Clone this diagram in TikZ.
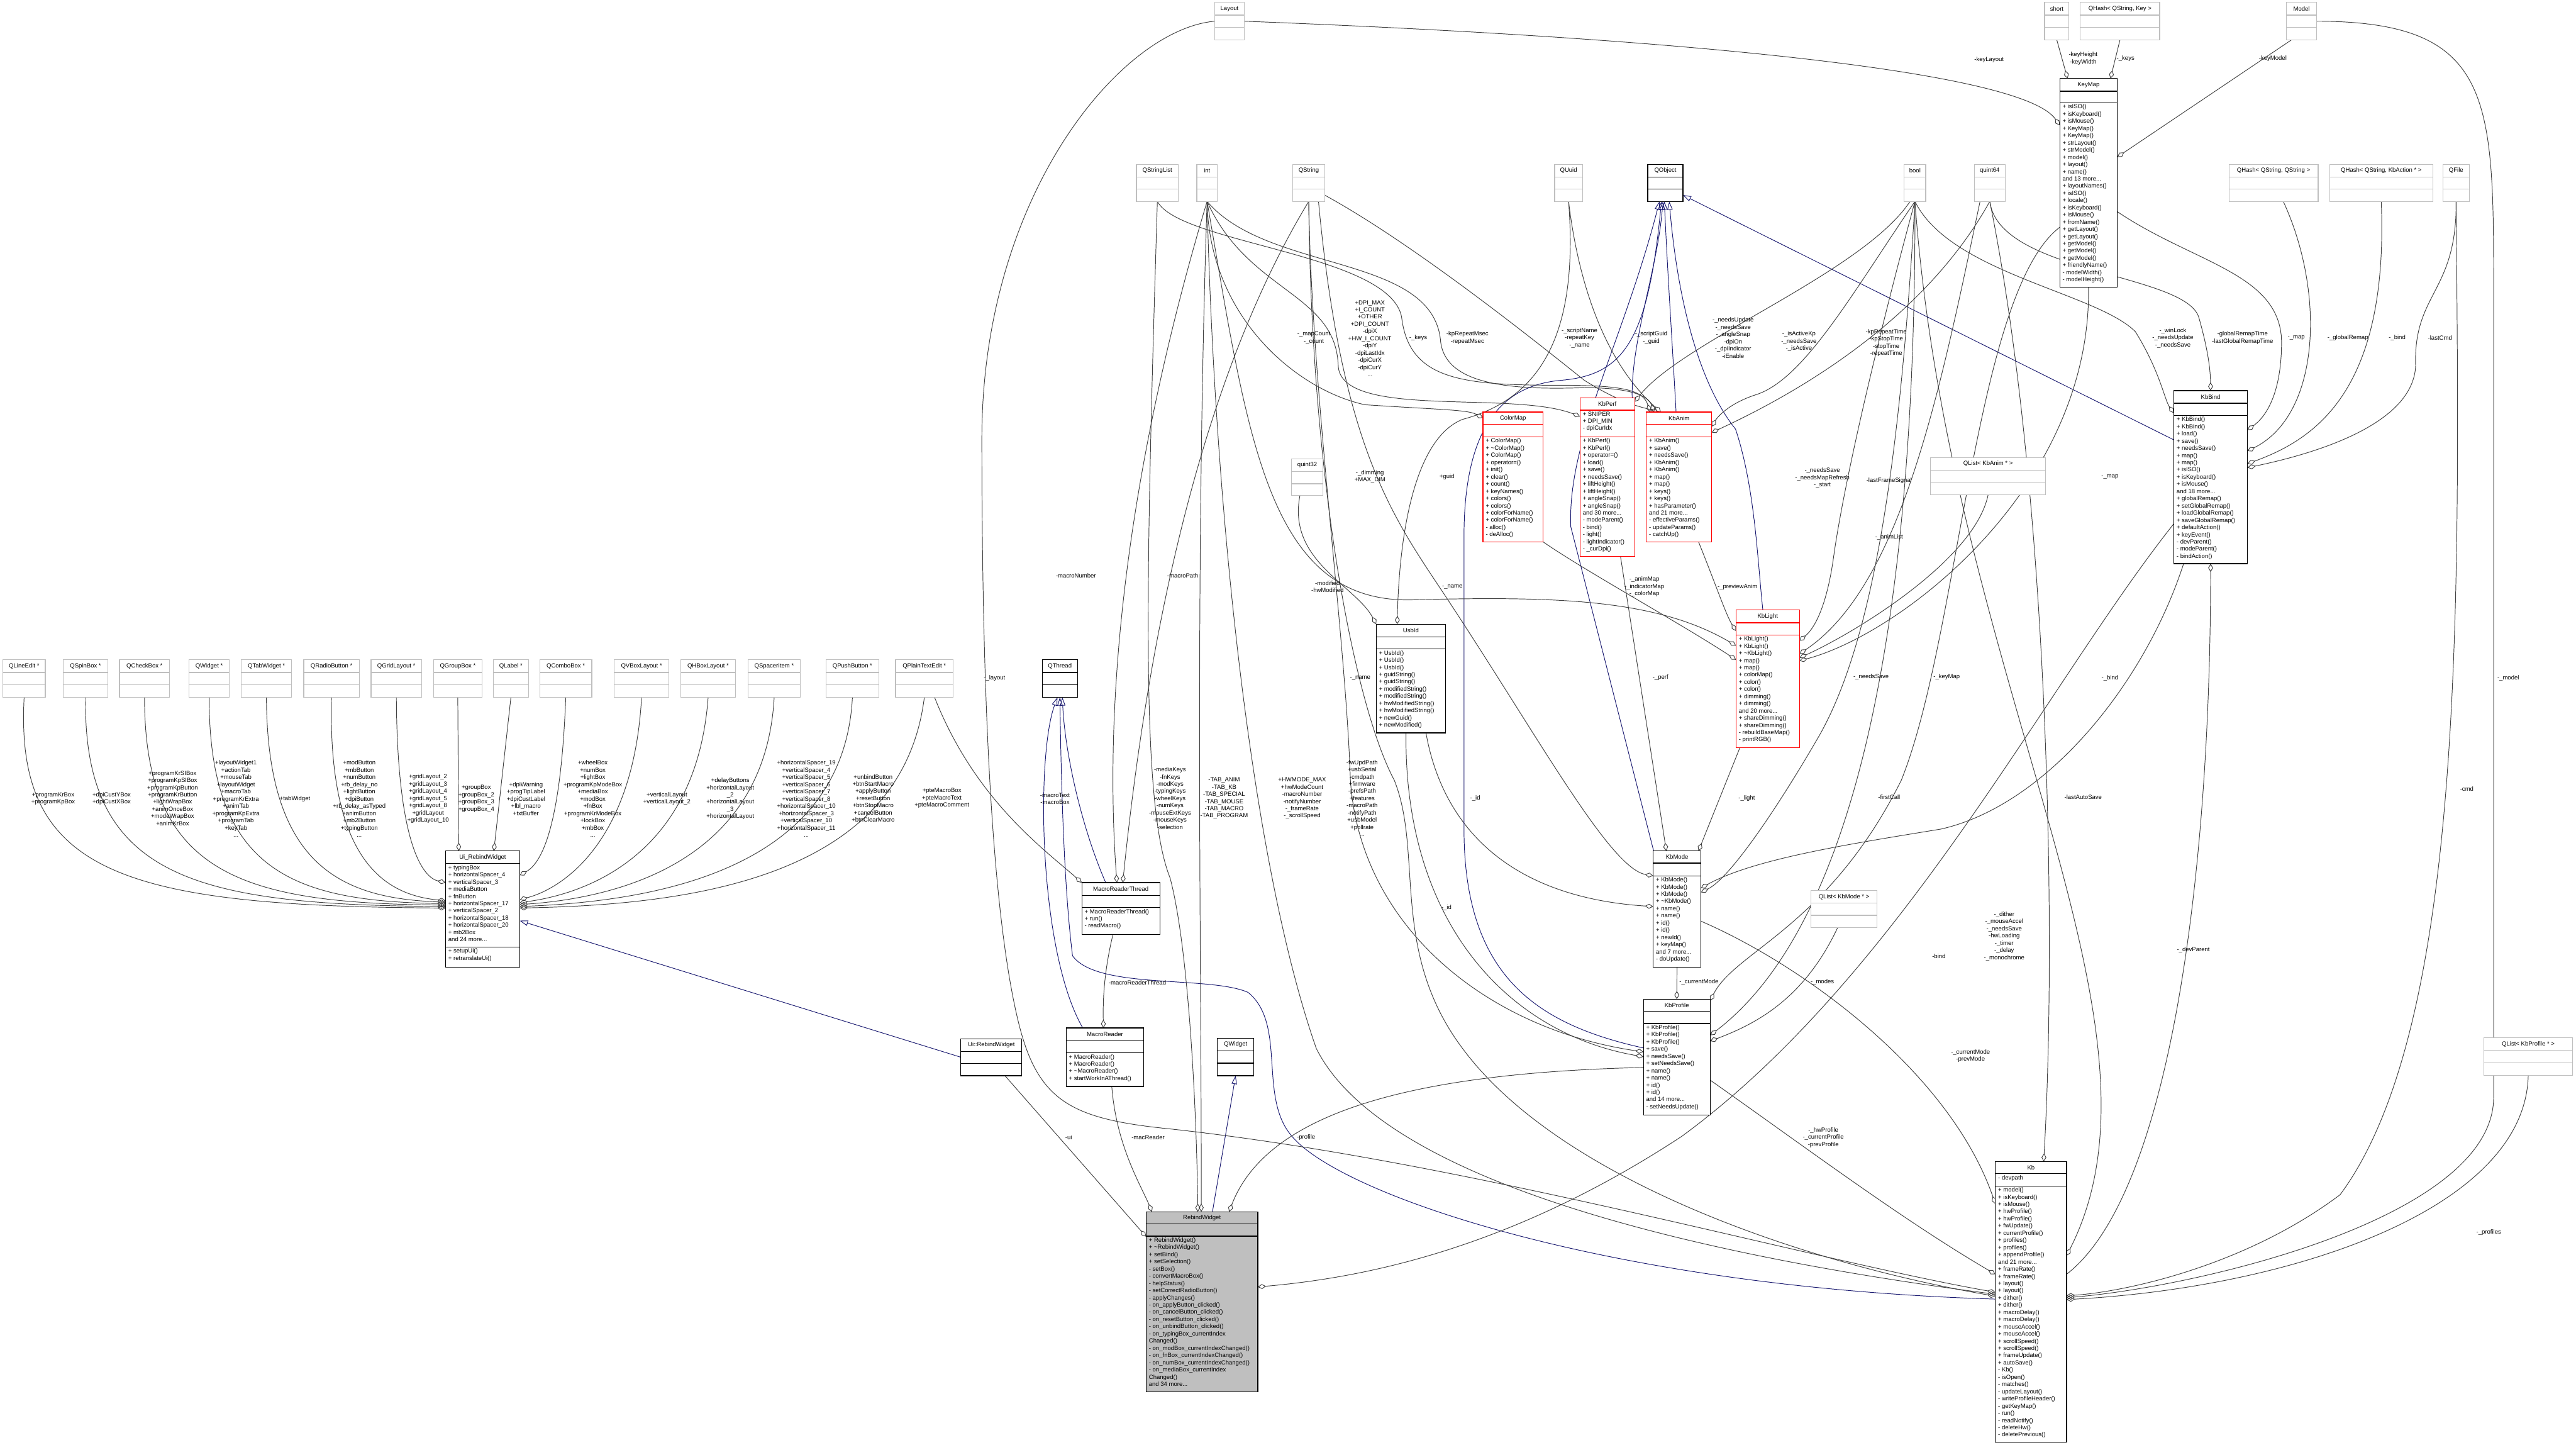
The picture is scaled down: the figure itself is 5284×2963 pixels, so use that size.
\documentclass[tikz,border=0pt]{standalone}
\usepackage{fontspec}
\setmainfont{Liberation Sans}
\usetikzlibrary{arrows.meta,calc,fit,backgrounds}

\definecolor{edgegray}{HTML}{404040}
\definecolor{inhblue}{HTML}{191970}
\definecolor{boxgray}{HTML}{BFBFBF}

\newcommand{\dxfont}{\fontsize{3.5}{4.2}\selectfont}

% class box: name, style, top-left, bottom-right, title height, attr height, title, attrs, methods
\newcommand{\umlclass}[9]{%
  \node[cls,#2,fit={(#3) (#4)}] (#1) {};
  \draw[sepline,#2] ($(#1.north west)+(0,#5)$) -- ($(#1.north east)+(0,#5)$);
  \draw[sepline,#2] ($(#1.north west)+(0,#5+#6)$) -- ($(#1.north east)+(0,#5+#6)$);
  \node[ctitle] (#1-t) at ($(#1.north)+(0,#5/2)$) {#7};
  \node[memb] (#1-a) at ($(#1.north west)+(0,#5)$) {#8};
  \node[memb] (#1-m) at ($(#1.north west)+(0,#5+#6)$) {#9};
}

\begin{document}
\begin{tikzpicture}[x=0.01cm, y=-0.01cm,
  cls/.style={draw=black, line width=0.45pt, inner sep=0pt, outer sep=0pt, fill=white},
  ext/.style={draw=boxgray},
  redcls/.style={draw=red},
  focus/.style={fill=boxgray},
  sepline/.style={line width=0.45pt},
  ctitle/.style={font=\dxfont, inner sep=0pt},
  memb/.style={font=\dxfont, anchor=north west, align=left, inner xsep=0.05cm, inner ysep=0.025cm},
  use/.style={draw=edgegray, line width=0.35pt, -{Diamond[open,length=0.17cm,width=0.1cm]}},
  inh/.style={draw=inhblue, line width=0.35pt, -{Triangle[open,length=0.17cm,width=0.11cm]}},
  lbl/.style={font=\dxfont, align=center, inner sep=0pt},
]
\useasboundingbox (0,0) rectangle (5284,2963);

% === widget pointer types ===
\umlclass{qlineedit}{ext}{6,1353}{93,1430}{26}{25}{QLineEdit *}{}{}
\umlclass{qspinbox}{ext}{130,1353}{221,1430}{26}{25}{QSpinBox *}{}{}
\umlclass{qcheckbox}{ext}{245,1353}{348,1430}{26}{25}{QCheckBox *}{}{}
\umlclass{qwidgetp}{ext}{388,1353}{470,1430}{26}{25}{QWidget *}{}{}
\umlclass{qtabwidget}{ext}{495,1353}{598,1430}{26}{25}{QTabWidget *}{}{}
\umlclass{qradiobutton}{ext}{623,1353}{737,1430}{26}{25}{QRadioButton *}{}{}
\umlclass{qgridlayout}{ext}{761,1353}{865,1430}{26}{25}{QGridLayout *}{}{}
\umlclass{qgroupbox}{ext}{889,1353}{989,1430}{26}{25}{QGroupBox *}{}{}
\umlclass{qlabel}{ext}{1012,1353}{1084,1430}{26}{25}{QLabel *}{}{}
\umlclass{qcombobox}{ext}{1107,1353}{1214,1430}{26}{25}{QComboBox *}{}{}
\umlclass{qvboxlayout}{ext}{1260,1353}{1372,1430}{26}{25}{QVBoxLayout *}{}{}
\umlclass{qhboxlayout}{ext}{1396,1353}{1509,1430}{26}{25}{QHBoxLayout *}{}{}
\umlclass{qspaceritem}{ext}{1534,1353}{1642,1430}{26}{25}{QSpacerItem *}{}{}
\umlclass{qpushbutton}{ext}{1694,1353}{1803,1430}{26}{25}{QPushButton *}{}{}
\umlclass{qplaintextedit}{ext}{1837,1353}{1955,1430}{26}{25}{QPlainTextEdit *}{}{}
\umlclass{qthread}{}{2138,1353}{2210,1430}{26}{25}{QThread}{}{}

\umlclass{uirebind}{}{914,1745}{1066,1983}{26}{171}{Ui\_RebindWidget}
  {+ typingBox\\+ horizontalSpacer\_4\\+ verticalSpacer\_3\\+ mediaButton\\+ fnButton\\+ horizontalSpacer\_17\\+ verticalSpacer\_2\\+ horizontalSpacer\_18\\+ horizontalSpacer\_20\\+ mb2Box\\and 24 more...}
  {+ setupUi()\\+ retranslateUi()}

% === macro reader / widget ===
\umlclass{mrthread}{}{2219,1810}{2379,1916}{26}{25}{MacroReaderThread}{}{+ MacroReaderThread()\\+ run()\\- readMacro()}
\umlclass{mreader}{}{2187,2108}{2346,2228}{26}{25}{MacroReader}{}{+ MacroReader()\\+ MacroReader()\\+ \textasciitilde MacroReader()\\+ startWorkInAThread()}
\umlclass{uins}{}{1971,2130}{2096,2206}{26}{25}{Ui::RebindWidget}{}{}
\umlclass{qwidget}{}{2497,2129}{2572,2206}{26}{25}{QWidget}{}{}
\umlclass{rebind}{focus}{2351,2485}{2580,2854}{25}{25}{RebindWidget}{}
  {+ RebindWidget()\\+ \textasciitilde RebindWidget()\\+ setBind()\\+ setSelection()\\- setBox()\\- convertMacroBox()\\- helpStatus()\\- setCorrectRadioButton()\\- applyChanges()\\- on\_applyButton\_clicked()\\- on\_cancelButton\_clicked()\\- on\_resetButton\_clicked()\\- on\_unbindButton\_clicked()\\- on\_typingBox\_currentIndex\\Changed()\\- on\_modBox\_currentIndexChanged()\\- on\_fnBox\_currentIndexChanged()\\- on\_numBox\_currentIndexChanged()\\- on\_mediaBox\_currentIndex\\Changed()\\and 34 more...}

% === top rows ===
\umlclass{layout}{ext}{2492,5}{2552,82}{26}{25}{Layout}{}{}
\umlclass{tshort}{ext}{4194,5}{4244,82}{26}{25}{short}{}{}
\umlclass{qhashkey}{ext}{4267,5}{4430,82}{26}{25}{QHash< QString, Key >}{}{}
\umlclass{model}{ext}{4690,5}{4752,82}{26}{25}{Model}{}{}
\umlclass{qstringlist}{ext}{2331,337}{2417,413}{26}{25}{QStringList}{}{}
\umlclass{tint}{ext}{2455,337}{2497,413}{26}{25}{int}{}{}
\umlclass{qstring}{ext}{2652,337}{2717,413}{26}{25}{QString}{}{}
\umlclass{quuid}{ext}{3189,337}{3246,413}{26}{25}{QUuid}{}{}
\umlclass{qobject}{}{3380,337}{3452,413}{26}{25}{QObject}{}{}
\umlclass{tbool}{ext}{3906,337}{3950,413}{26}{25}{bool}{}{}
\umlclass{quint64}{ext}{4050,337}{4113,413}{26}{25}{quint64}{}{}
\umlclass{qhashstr}{ext}{4572,337}{4755,413}{26}{25}{QHash< QString, QString >}{}{}
\umlclass{qhashact}{ext}{4779,337}{4990,413}{26}{25}{QHash< QString, KbAction * >}{}{}
\umlclass{qfile}{ext}{5011,337}{5065,413}{26}{25}{QFile}{}{}

% === keyboard classes ===
\umlclass{keymap}{}{4225,161}{4343,589}{26}{24}{KeyMap}{}
  {+ isISO()\\+ isKeyboard()\\+ isMouse()\\+ KeyMap()\\+ KeyMap()\\+ strLayout()\\+ strModel()\\+ model()\\+ layout()\\+ name()\\and 13 more...\\+ layoutNames()\\+ isISO()\\+ locale()\\+ isKeyboard()\\+ isMouse()\\+ fromName()\\+ getLayout()\\+ getLayout()\\+ getModel()\\+ getModel()\\+ getModel()\\+ friendlyName()\\- modelWidth()\\- modelHeight()}
\umlclass{kbbind}{}{4459,801}{4610,1156}{26}{25}{KbBind}{}
  {+ KbBind()\\+ KbBind()\\+ load()\\+ save()\\+ needsSave()\\+ map()\\+ map()\\+ isISO()\\+ isKeyboard()\\+ isMouse()\\and 18 more...\\+ globalRemap()\\+ setGlobalRemap()\\+ loadGlobalRemap()\\+ saveGlobalRemap()\\+ defaultAction()\\+ keyEvent()\\- devParent()\\- modeParent()\\- bindAction()}
\umlclass{colormap}{redcls}{3042,845}{3165,1111}{25}{26}{ColorMap}{}
  {+ ColorMap()\\+ \textasciitilde ColorMap()\\+ ColorMap()\\+ operator=()\\+ init()\\+ clear()\\+ count()\\+ keyNames()\\+ colors()\\+ colors()\\+ colorForName()\\+ colorForName()\\- alloc()\\- deAlloc()}
\umlclass{kbperf}{redcls}{3241,816}{3353,1141}{25}{55}{KbPerf}{+ SNIPER\\+ DPI\_MIN\\- dpiCurIdx}
  {+ KbPerf()\\+ KbPerf()\\+ operator=()\\+ load()\\+ save()\\+ needsSave()\\+ liftHeight()\\+ liftHeight()\\+ angleSnap()\\+ angleSnap()\\and 30 more...\\- modeParent()\\- bind()\\- light()\\- lightIndicator()\\- \_curDpi()}
\umlclass{kbanim}{redcls}{3377,845}{3511,1111}{25}{26}{KbAnim}{}
  {+ KbAnim()\\+ save()\\+ needsSave()\\+ KbAnim()\\+ KbAnim()\\+ map()\\+ map()\\+ keys()\\+ keys()\\+ hasParameter()\\and 21 more...\\- effectiveParams()\\- updateParams()\\- catchUp()}
\umlclass{quint32}{ext}{2649,941}{2714,1016}{26}{25}{quint32}{}{}
\umlclass{qlistanim}{ext}{3960,938}{4196,1015}{26}{25}{QList< KbAnim * >}{}{}
\umlclass{usbid}{}{2823,1280}{2965,1503}{26}{25}{UsbId}{}
  {+ UsbId()\\+ UsbId()\\+ UsbId()\\+ guidString()\\+ guidString()\\+ modifiedString()\\+ modifiedString()\\+ hwModifiedString()\\+ hwModifiedString()\\+ newGuid()\\+ newModified()}
\umlclass{kblight}{redcls}{3561,1251}{3691,1533}{26}{25}{KbLight}{}
  {+ KbLight()\\+ KbLight()\\+ \textasciitilde KbLight()\\+ map()\\+ map()\\+ colorMap()\\+ color()\\+ color()\\+ dimming()\\+ dimming()\\and 20 more...\\+ shareDimming()\\+ shareDimming()\\- rebuildBaseMap()\\- printRGB()}
\umlclass{kbmode}{}{3391,1745}{3489,1983}{25}{26}{KbMode}{}
  {+ KbMode()\\+ KbMode()\\+ KbMode()\\+ \textasciitilde KbMode()\\+ name()\\+ name()\\+ id()\\+ id()\\+ newId()\\+ keyMap()\\and 7 more...\\- doUpdate()}
\umlclass{qlistmode}{ext}{3715,1826}{3850,1902}{26}{25}{QList< KbMode * >}{}{}
\umlclass{kbprofile}{}{3371,2049}{3508,2287}{25}{25}{KbProfile}{}
  {+ KbProfile()\\+ KbProfile()\\+ KbProfile()\\+ save()\\+ needsSave()\\+ setNeedsSave()\\+ name()\\+ name()\\+ id()\\+ id()\\and 14 more...\\- setNeedsUpdate()}
\umlclass{qlistprofile}{ext}{5095,2128}{5277,2205}{26}{25}{QList< KbProfile * >}{}{}
\umlclass{kb}{}{4093,2382}{4239,2957}{25}{25}{Kb}{- devpath}
  {+ model()\\+ isKeyboard()\\+ isMouse()\\+ hwProfile()\\+ hwProfile()\\+ fwUpdate()\\+ currentProfile()\\+ profiles()\\+ profiles()\\+ appendProfile()\\and 21 more...\\+ frameRate()\\+ frameRate()\\+ layout()\\+ layout()\\+ dither()\\+ dither()\\+ macroDelay()\\+ macroDelay()\\+ mouseAccel()\\+ mouseAccel()\\+ scrollSpeed()\\+ scrollSpeed()\\+ frameUpdate()\\+ autoSave()\\- Kb()\\- isOpen()\\- matches()\\- updateLayout()\\- writeProfileHeader()\\- getKeyMap()\\- run()\\- readNotify()\\- deleteHw()\\- deletePrevious()}

% === connectors ===
\begin{scope}[on background layer]
\fill[white] (0,0) rectangle (5284,2963);

% Ui_RebindWidget members
\draw[use] (qlineedit.south) .. controls (30,1790) and (250,1858) .. ($(uirebind.north west)+(0,117)$);
\draw[use] (qspinbox.south) .. controls (170,1800) and (400,1855) .. ($(uirebind.north west)+(0,114)$);
\draw[use] (qcheckbox.south) .. controls (296,1795) and (500,1852) .. ($(uirebind.north west)+(0,111)$);
\draw[use] (qwidgetp.south) .. controls (429,1785) and (600,1848) .. ($(uirebind.north west)+(0,108)$);
\draw[use] (qtabwidget.south) .. controls (548,1775) and (700,1842) .. ($(uirebind.north west)+(0,105)$);
\draw[use] (qradiobutton.south) .. controls (672,1765) and (790,1835) .. ($(uirebind.north west)+(0,102)$);
\draw[use] (qgridlayout.south) .. controls (815,1740) and (870,1800) .. ($(uirebind.north west)+(0,65)$);
\draw[use] (qgroupbox.south) -- ($(uirebind.north west)+(27,0)$);
\draw[use] (qlabel.south) -- ($(uirebind.north west)+(99,0)$);
\draw[use] (qcombobox.south) .. controls (1150,1700) and (1110,1770) .. ($(uirebind.north east)+(0,50)$);
\draw[use] (qvboxlayout.south) .. controls (1300,1720) and (1160,1820) .. ($(uirebind.north east)+(0,100)$);
\draw[use] (qhboxlayout.south) .. controls (1430,1740) and (1220,1830) .. ($(uirebind.north east)+(0,106)$);
\draw[use] (qspaceritem.south) .. controls (1570,1760) and (1280,1840) .. ($(uirebind.north east)+(0,110)$);
\draw[use] (qpushbutton.south) .. controls (1730,1790) and (1330,1848) .. ($(uirebind.north east)+(0,114)$);
\draw[use] (qplaintextedit.south) .. controls (1850,1800) and (1420,1855) .. ($(uirebind.north east)+(0,117)$);
\draw[inh] (uins.west) -- ($(uirebind.north east)+(0,143)$);

% macro reader thread
\draw[use] ($(qplaintextedit.south)+(21,0)$) .. controls (2000,1640) and (2140,1740) .. (mrthread.north west);
\draw[use] (tint.south) .. controls (2390,700) and (2250,1250) .. ($(mrthread.north west)+(72,0)$);
\draw[use] (qstring.south) .. controls (2450,800) and (2350,1350) .. ($(mrthread.north west)+(84,0)$);
\draw[inh] ($(mrthread.north west)+(49,0)$) .. controls (2220,1700) and (2185,1550) .. ($(qthread.south)+(5,0)$);
\draw[inh] ($(mreader.north west)+(34,0)$) .. controls (2130,1950) and (2125,1550) .. ($(qthread.south)+(-5,0)$);
\draw[use] ($(mrthread.south)+(-16,0)$) .. controls (2265,1990) and (2262,2050) .. ($(mreader.north)+(-3,0)$);
\draw[inh] ($(kb.north west)+(0,282)$) .. controls (3300,2640) and (2750,2450) .. (2650,2330)
  .. controls (2580,2250) and (2640,2100) .. (2560,2035) .. controls (2480,2000) and (2250,2030) .. (2200,1960)
  .. controls (2180,1800) and (2176,1550) .. (qthread.south);

% RebindWidget members
\draw[use] ($(uins.south)+(28,0)$) -- ($(rebind.north west)+(0,51)$);
\draw[use] ($(mreader.south)+(14,0)$) .. controls (2290,2350) and (2340,2430) .. ($(rebind.north west)+(12,0)$);
\draw[use] (qstringlist.south) .. controls (2350,1200) and (2340,1650) .. (2400,1800) .. controls (2440,1950) and (2455,2300) .. ($(rebind.north west)+(106,0)$);
\draw[use] (tint.south) .. controls (2450,1200) and (2465,2000) .. ($(rebind.north west)+(113,0)$);
\draw[inh] ($(rebind.north west)+(136,0)$) -- (qwidget.south);
\draw[use] ($(kbprofile.north west)+(0,140)$) .. controls (2900,2200) and (2600,2280) .. ($(rebind.north west)+(170,0)$);
\draw[use] ($(kbbind.north west)+(0,273)$) .. controls (4200,1400) and (3900,2000) .. (3450,2330) .. controls (3100,2560) and (2800,2620) .. ($(rebind.north east)+(0,154)$);

% Kb members
\draw[use] (layout.west) .. controls (2300,60) and (2014,400) .. (2014,900) .. controls (2014,1500) and (2040,1900) .. (2090,2100)
  .. controls (2130,2260) and (2200,2295) .. (2400,2315) .. controls (3000,2380) and (3700,2580) .. ($(kb.north west)+(0,268)$);
\draw[use] (tint.south) .. controls (2490,1000) and (2560,1750) .. (2700,2150) .. controls (2850,2450) and (3600,2590) .. ($(kb.north west)+(0,272)$);
\draw[use] (qstring.south) .. controls (2690,1000) and (2780,1450) .. (2860,1600) .. controls (2920,1750) and (2850,1950) .. (3000,2150)
  .. controls (3200,2420) and (3700,2590) .. ($(kb.north west)+(0,276)$);
\draw[use] ($(kbmode.north east)+(0,144)$) .. controls (3700,1980) and (4000,2200) .. ($(kb.north west)+(0,87)$);
\draw[use] ($(kbprofile.north east)+(0,166)$) .. controls (3700,2350) and (3900,2500) .. ($(kb.north west)+(0,231)$);
\draw[use] (quint64.south) .. controls (4200,1000) and (4220,1900) .. ($(kb.north)+(26,0)$);
\draw[use] (tbool.south) .. controls (4000,1400) and (4480,2100) .. ($(kb.north east)+(0,193)$);
\draw[use] (qfile.south) .. controls (5045,1200) and (5060,2100) .. (4800,2450) .. controls (4600,2600) and (4350,2650) .. ($(kb.north east)+(0,275)$);
\draw[use] (model.east) .. controls (5115,44) and (5115,200) .. (5115,600) -- (5115,2250) .. controls (5115,2500) and (4500,2640) .. ($(kb.north east)+(0,279)$);
\draw[use] (qlistprofile.south) .. controls (5180,2480) and (4700,2640) .. ($(kb.north east)+(0,283)$);

% KeyMap members
\draw[use] (layout.east) .. controls (3500,80) and (4150,150) .. ($(keymap.north west)+(0,96)$);
\draw[use] (tshort.south) -- ($(keymap.north west)+(16,0)$);
\draw[use] (qhashkey.south) -- ($(keymap.north west)+(104,0)$);
\draw[use] ($(model.south west)+(10,0)$) -- ($(keymap.north east)+(0,161)$);

% KbBind members
\draw[use] ($(keymap.north east)+(0,273)$) .. controls (4500,540) and (4677,560) .. (4680,700) .. controls (4680,820) and (4640,860) .. ($(kbbind.north east)+(0,81)$);
\draw[use] ($(qhashstr.south)+(20,0)$) .. controls (4770,600) and (4760,850) .. ($(kbbind.north east)+(0,124)$);
\draw[use] (qhashact.south) .. controls (4900,800) and (4750,900) .. ($(kbbind.north east)+(0,150)$);
\draw[use] (qfile.south) .. controls (5040,600) and (4950,600) .. (4955,750) .. controls (4950,870) and (4750,930) .. ($(kbbind.north east)+(0,158)$);
\draw[use] (tbool.south) .. controls (4000,560) and (4300,600) .. (4380,680) .. controls (4430,760) and (4440,820) .. ($(kbbind.north west)+(0,46)$);
\draw[use] (quint64.south) .. controls (4100,560) and (4480,560) .. (4510,650) .. controls (4530,720) and (4534,760) .. (kbbind.north);
\draw[use] ($(kb.north east)+(0,231)$) .. controls (4450,2450) and (4534,1800) .. (kbbind.south);
\draw[inh] ($(kbbind.north west)+(0,101)$) -- ($(qobject.south east)+(0,-13)$);

% KbMode members
\draw[use] ($(kbperf.south)+(27,0)$) -- ($(kbmode.north west)+(27,0)$);
\draw[use] ($(kblight.south west)+(8,0)$) -- ($(kbmode.north east)+(-5,0)$);
\draw[inh] ($(kbmode.north west)+(1,0)$) -- (3222,1080) .. controls (3215,900) and (3330,700) .. ($(qobject.south)+(-12,0)$);
\draw[use] ($(usbid.south east)+(-40,0)$) .. controls (2960,1700) and (3100,1840) .. ($(kbmode.north west)+(0,114)$);
\draw[use] ($(qstring.south)+(20,0)$) .. controls (2750,900) and (2850,1050) .. (2950,1200) .. controls (3150,1500) and (3300,1780) .. ($(kbmode.north west)+(0,51)$);
\draw[use] ($(kbbind.south west)+(20,0)$) .. controls (4400,1400) and (4200,1650) .. (3982,1700) .. controls (3800,1730) and (3600,1760) .. ($(kbmode.north east)+(0,76)$);
\draw[use] (tbool.south) .. controls (3900,900) and (3850,1300) .. (3732,1508) .. controls (3650,1650) and (3550,1800) .. ($(kbmode.north east)+(0,85)$);

% KbProfile members
\draw[use] (kbmode.south) -- (kbprofile.north);
\draw[use] ($(qlistmode.south)+(-13,0)$) .. controls (3700,2050) and (3600,2100) .. ($(kbprofile.north east)+(0,86)$);
\draw[use] ($(keymap.north west)+(0,305)$) .. controls (4050,600) and (4020,1300) .. (3900,1600) .. controls (3750,1900) and (3560,1950) .. ($(kbprofile.north east)+(0,3)$);
\draw[use] (tbool.south) .. controls (3930,1300) and (3800,1900) .. ($(kbprofile.north east)+(0,74)$);
\draw[use] ($(usbid.south)+(-10,0)$) .. controls (2880,1900) and (3100,2120) .. ($(kbprofile.north west)+(0,118)$);
\draw[use] (qstring.south) .. controls (2690,800) and (2760,1300) .. (2770,1600) .. controls (2790,1900) and (3050,2110) .. ($(kbprofile.north west)+(0,108)$);
\draw[inh] ($(kbprofile.north west)+(0,100)$) .. controls (3150,2100) and (3003,2000) .. (3003,1700) -- (3003,1100)
  .. controls (3003,850) and (3100,790) .. (3200,780) .. controls (3330,770) and (3380,700) .. ($(qobject.south)+(-8,0)$);

% KbLight members
\draw[inh] ($(kblight.north)+(-10,0)$) .. controls (3605,1150) and (3600,1000) .. (3560,880) .. controls (3480,780) and (3440,600) .. ($(qobject.south)+(8,0)$);
\draw[use] (colormap.south east) .. controls (3250,1170) and (3450,1280) .. ($(kblight.north west)+(0,102)$);
\draw[use] ($(kbanim.south)+(40,0)$) .. controls (3520,1200) and (3540,1260) .. ($(kblight.north west)+(0,43)$);
\draw[use] (tint.south) .. controls (2560,900) and (2600,1240) .. (2900,1230) .. controls (3200,1222) and (3400,1230) .. ($(kblight.north west)+(0,73)$);
\draw[use] (tbool.south) .. controls (3850,700) and (3780,1000) .. (3760,1150) .. controls (3745,1250) and (3720,1290) .. ($(kblight.north east)+(0,63)$);
\draw[use] ($(quint64.south)+(-20,0)$) .. controls (3980,800) and (3900,1200) .. ($(kblight.north east)+(0,90)$);
\draw[use] (qlistanim.south) .. controls (4050,1150) and (3800,1300) .. ($(kblight.north east)+(0,98)$);
\draw[use] (keymap.south) .. controls (4290,1000) and (3900,1300) .. ($(kblight.north east)+(0,104)$);

% KbAnim members
\draw[use] (qstringlist.south) .. controls (2420,500) and (2850,520) .. (2875,650) .. controls (2890,780) and (3000,790) .. (3200,790)
  .. controls (3330,790) and (3370,800) .. ($(kbanim.north west)+(8,0)$);
\draw[use] (tint.south) .. controls (2600,560) and (2940,520) .. (2955,700) .. controls (2965,790) and (3100,800) .. (3250,795)
  .. controls (3340,795) and (3380,810) .. ($(kbanim.north west)+(16,0)$);
\draw[use] ($(qstring.east)+(0,25)$) .. controls (2900,500) and (3150,700) .. (3250,780) .. controls (3330,830) and (3370,835) .. ($(kbanim.north west)+(24,0)$);
\draw[use] (quuid.south) .. controls (3240,600) and (3300,750) .. ($(kbanim.north west)+(30,0)$);
\draw[inh] ($(kbanim.north)+(-6,0)$) .. controls (3430,700) and (3420,550) .. ($(qobject.south)+(-2,0)$);
\draw[use] (tbool.south) .. controls (3800,600) and (3700,780) .. (3600,810) .. controls (3540,830) and (3520,860) .. ($(kbanim.north east)+(0,30)$);
\draw[use] (quint64.south) .. controls (3950,650) and (3700,800) .. ($(kbanim.north east)+(0,42)$);

% KbPerf members
\draw[use] (tint.south) .. controls (2560,600) and (2740,600) .. (2745,750) .. controls (2750,860) and (3100,800) .. ($(kbperf.north west)+(0,38)$);
\draw[use] ($(tbool.south)+(-10,0)$) .. controls (3820,560) and (3450,700) .. ($(kbperf.north east)+(0,8)$);
\draw[inh] ($(kbperf.north east)+(-5,0)$) .. controls (3345,700) and (3400,550) .. ($(qobject.south)+(-5,0)$);

% ColorMap and UsbId members
\draw[use] (tint.south) .. controls (2480,650) and (2660,800) .. (2800,830) .. controls (2950,840) and (3010,840) .. ($(colormap.north west)+(0,12)$);
\draw[use] (quuid.south) .. controls (3240,700) and (3150,820) .. (3000,860) .. controls (2900,900) and (2870,1100) .. ($(usbid.north west)+(43,0)$);
\draw[use] ($(quint32.south)+(-15,0)$) .. controls (2640,1150) and (2780,1200) .. (usbid.north west);
\end{scope}

% === connector labels ===
\node[lbl] (l-lineedit) at (109,1638) {+programKrBox\\+programKpBox};
\node[lbl] (l-spinbox) at (229,1638) {+dpiCustYBox\\+dpiCustXBox};
\node[lbl] (l-checkbox) at (354,1637) {+programKrSIBox\\+programKpSIBox\\+programKpButton\\+programKrButton\\+lightWrapBox\\+animOnceBox\\+modeWrapBox\\+animKrBox};
\node[lbl] (l-widgetp) at (484,1638) {+layoutWidget1\\+actionTab\\+mouseTab\\+layoutWidget\\+macroTab\\+programKrExtra\\+animTab\\+programKpExtra\\+programTab\\+keyTab\\...};
\node[lbl] (l-tabwidget) at (605,1638) {+tabWidget};
\node[lbl] (l-radio) at (737,1638) {+modButton\\+mbButton\\+numButton\\+rb\_delay\_no\\+lightButton\\+dpiButton\\+rb\_delay\_asTyped\\+animButton\\+mb2Button\\+typingButton\\...};
\node[lbl] (l-grid) at (878,1638) {+gridLayout\_2\\+gridLayout\_3\\+gridLayout\_4\\+gridLayout\_5\\+gridLayout\_8\\+gridLayout\\+gridLayout\_10};
\node[lbl] (l-group) at (977,1638) {+groupBox\\+groupBox\_2\\+groupBox\_3\\+groupBox\_4};
\node[lbl] (l-label) at (1079,1638) {+dpiWarning\\+progTipLabel\\+dpiCustLabel\\+lbl\_macro\\+txtBuffer};
\node[lbl] (l-combo) at (1216,1638) {+wheelBox\\+numBox\\+lightBox\\+programKpModeBox\\+mediaBox\\+modBox\\+fnBox\\+programKrModeBox\\+lockBox\\+mbBox\\...};
\node[lbl] (l-vbox) at (1368,1638) {+verticalLayout\\+verticalLayout\_2};
\node[lbl] (l-hbox) at (1498,1638) {+delayButtons\\+horizontalLayout\\\_2\\+horizontalLayout\\\_3\\+horizontalLayout};
\node[lbl] (l-spacer) at (1654,1638) {+horizontalSpacer\_19\\+verticalSpacer\_4\\+verticalSpacer\_5\\+verticalSpacer\_6\\+verticalSpacer\_7\\+verticalSpacer\_8\\+horizontalSpacer\_10\\+horizontalSpacer\_3\\+verticalSpacer\_10\\+horizontalSpacer\_11\\...};
\node[lbl] (l-push) at (1791,1637) {+unbindButton\\+btnStartMacro\\+applyButton\\+resetButton\\+btnStopMacro\\+cancelButton\\+btnClearMacro};
\node[lbl] (l-plain) at (1932,1637) {+pteMacroBox\\+pteMacroText\\+pteMacroComment};
\node[lbl] (l-layout) at (2040,1391) {-\_layout};
\node[lbl] (l-macrotext) at (2164,1638) {-macroText\\-macroBox};
\node[lbl] (l-macronum) at (2207,1180) {-macroNumber};
\node[lbl] (l-macropath) at (2426,1180) {-macroPath};
\node[lbl] (l-keys) at (2400,1637) {-mediaKeys\\-fnKeys\\-modKeys\\-typingKeys\\-wheelKeys\\-numKeys\\-mouseExtKeys\\-mouseKeys\\-selection};
\node[lbl] (l-tabs) at (2511,1637) {-TAB\_ANIM\\-TAB\_KB\\-TAB\_SPECIAL\\-TAB\_MOUSE\\-TAB\_MACRO\\-TAB\_PROGRAM};
\node[lbl] (l-kbint) at (2671,1637) {+HWMODE\_MAX\\+hwModeCount\\-macroNumber\\-notifyNumber\\-\_frameRate\\-\_scrollSpeed};
\node[lbl] (l-kbstr) at (2794,1637) {-fwUpdPath\\+usbSerial\\-cmdpath\\+firmware\\-prefsPath\\+features\\-macroPath\\-notifyPath\\+usbModel\\+pollrate\\...};
\node[lbl] (l-mrthread) at (2333,2015) {-macroReaderThread};
\node[lbl] (l-ui) at (2192,2333) {-ui};
\node[lbl] (l-macreader) at (2355,2333) {-macReader};
\node[lbl] (l-profile) at (2679,2333) {-profile};
\node[lbl] (l-name1) at (2790,1390) {-\_name};
\node[lbl] (l-name2) at (2979,1203) {-\_name};
\node[lbl] (l-id1) at (3026,1637) {-\_id};
\node[lbl] (l-id2) at (2967,1862) {-\_id};
\node[lbl] (l-modified) at (2723,1203) {-modified\\-hwModified};
\node[lbl] (l-guid) at (2968,978) {+guid};
\node[lbl] (l-dimming) at (2810,977) {-\_dimming\\+MAX\_DIM};
\node[lbl] (l-mapcount) at (2695,693) {-\_mapCount\\-\_count};
\node[lbl] (l-dpi) at (2810,694) {+DPI\_MAX\\+I\_COUNT\\+OTHER\\+DPI\_COUNT\\-dpiX\\+HW\_I\_COUNT\\-dpiY\\-dpiLastIdx\\-dpiCurX\\-dpiCurY\\...};
\node[lbl] (l-animkeys) at (2909,693) {-\_keys};
\node[lbl] (l-repeat) at (3010,693) {-kpRepeatMsec\\-repeatMsec};
\node[lbl] (l-script) at (3240,693) {-\_scriptName\\-repeatKey\\-\_name};
\node[lbl] (l-scriptguid) at (3387,693) {-\_scriptGuid\\-\_guid};
\node[lbl] (l-perfbool) at (3555,693) {-\_needsUpdate\\-\_needsSave\\-\_angleSnap\\-dpiOn\\-\_dpiIndicator\\-iEnable};
\node[lbl] (l-animbool) at (3690,700) {-\_isActiveKp\\-\_needsSave\\-\_isActive};
\node[lbl] (l-animtime) at (3869,703) {-kpRepeatTime\\-kpStopTime\\-stopTime\\-repeatTime};
\node[lbl] (l-lightbool) at (3738,980) {-\_needsSave\\-\_needsMapRefresh\\-\_start};
\node[lbl] (l-lastframe) at (3875,985) {-lastFrameSignal};
\node[lbl] (l-animlist) at (3875,1102) {-\_animList};
\node[lbl] (l-maps) at (3373,1203) {-\_animMap\\-\_indicatorMap\\-\_colorMap};
\node[lbl] (l-preview) at (3564,1203) {-\_previewAnim};
\node[lbl] (l-perf) at (3406,1390) {-\_perf};
\node[lbl] (l-light) at (3583,1637) {-\_light};
\node[lbl] (l-modesave) at (3838,1388) {-\_needsSave};
\node[lbl] (l-keymap) at (3993,1388) {-\_keyMap};
\node[lbl] (l-firstcall) at (3875,1634) {-firstCall};
\node[lbl] (l-lightmap) at (4328,978) {-\_map};
\node[lbl] (l-modebind) at (4328,1391) {-\_bind};
\node[lbl] (l-autosave) at (4273,1634) {-lastAutoSave};
\node[lbl] (l-kbbool) at (4111,1920) {-\_dither\\-\_mouseAccel\\-\_needsSave\\-hwLoading\\-\_timer\\-\_delay\\-\_monochrome};
\node[lbl] (l-bind) at (3977,1961) {-bind};
\node[lbl] (l-devparent) at (4499,1948) {-\_devParent};
\node[lbl] (l-cmd) at (5060,1618) {-cmd};
\node[lbl] (l-model) at (5145,1391) {-\_model};
\node[lbl] (l-profiles) at (5105,2527) {-\_profiles};
\node[lbl] (l-curmode) at (3485,2014) {-\_currentMode};
\node[lbl] (l-modes) at (3738,2014) {-\_modes};
\node[lbl] (l-kbmode) at (4042,2165) {-\_currentMode\\-prevMode};
\node[lbl] (l-kbprofile) at (3740,2333) {-\_hwProfile\\-\_currentProfile\\-prevProfile};
\node[lbl] (l-keylayout) at (4080,122) {-keyLayout};
\node[lbl] (l-keysize) at (4273,120) {-keyHeight\\-keyWidth};
\node[lbl] (l-keys2) at (4360,120) {-\_keys};
\node[lbl] (l-keymodel) at (4662,120) {-keyModel};
\node[lbl] (l-bindbool) at (4457,693) {-\_winLock\\-\_needsUpdate\\-\_needsSave};
\node[lbl] (l-remaptime) at (4600,693) {-globalRemapTime\\-lastGlobalRemapTime};
\node[lbl] (l-bindmap) at (4710,693) {-\_map};
\node[lbl] (l-globalremap) at (4816,693) {-\_globalRemap};
\node[lbl] (l-bindhash) at (4917,693) {-\_bind};
\node[lbl] (l-lastcmd) at (5005,693) {-lastCmd};
\end{tikzpicture}
\end{document}
